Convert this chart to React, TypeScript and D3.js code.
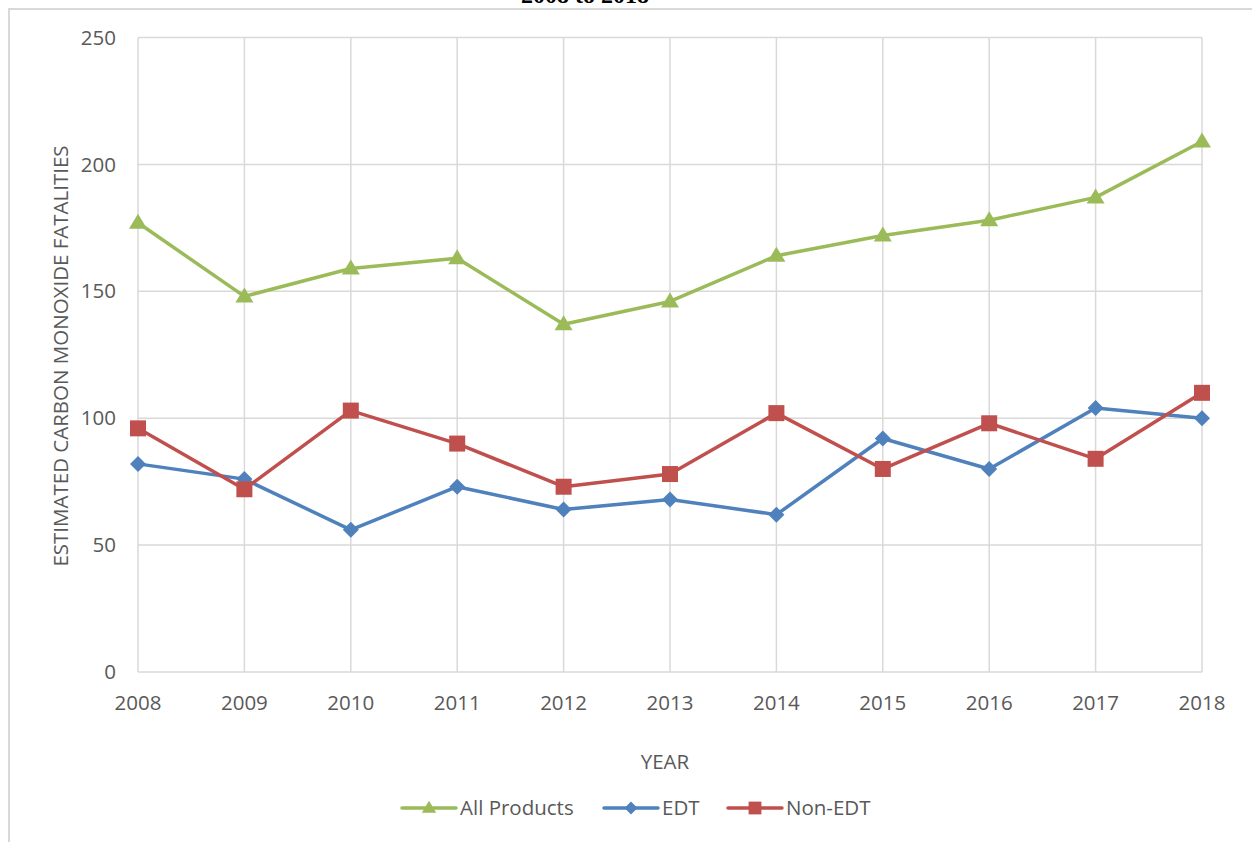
import React from "react";
import * as d3 from "d3";

const years = ["2008", "2009", "2010", "2011", "2012", "2013", "2014", "2015", "2016", "2017", "2018"];
const allProducts = [177, 148, 159, 163, 137, 146, 164, 172, 178, 187, 209];
const edt = [82, 76, 56, 73, 64, 68, 62, 92, 80, 104, 100];
const nonEdt = [96, 72, 103, 90, 73, 78, 102, 80, 98, 84, 110];
const yTicks = [0, 50, 100, 150, 200, 250];

const font = "'Open Sans', 'Liberation Sans', sans-serif";
const fs = 20.5;
const textColor = "#595959";
const gridColor = "#d9d9d9";

const series = [
  { name: "All Products", values: allProducts, color: "#9BBB59", marker: "triangle" },
  { name: "EDT", values: edt, color: "#4F81BD", marker: "diamond" },
  { name: "Non-EDT", values: nonEdt, color: "#C0504D", marker: "square" },
];

function Marker({ type, x, y, color, s = 1 }: { type: string; x: number; y: number; color: string; s?: number }) {
  if (type === "triangle") {
    const p = d3.path();
    p.moveTo(x, y - 9 * s);
    p.lineTo(x + 9 * s, y + 6 * s);
    p.lineTo(x - 9 * s, y + 6 * s);
    p.closePath();
    return <path d={p.toString()} fill={color} />;
  }
  if (type === "diamond") {
    const p = d3.path();
    p.moveTo(x, y - 8 * s);
    p.lineTo(x + 8 * s, y);
    p.lineTo(x, y + 8 * s);
    p.lineTo(x - 8 * s, y);
    p.closePath();
    return <path d={p.toString()} fill={color} />;
  }
  return <rect x={x - 8 * s} y={y - 8 * s} width={16 * s} height={16 * s} fill={color} />;
}

export default function App() {
  const width = 1252;
  const height = 842;
  const x = d3.scalePoint<string>().domain(years).range([138, 1202]);
  const y = d3.scaleLinear().domain([0, 250]).range([672, 37.5]);

  const line = d3
    .line<number>()
    .x((_, i) => x(years[i]) as number)
    .y((d) => y(d));

  const legend = [
    { s: series[0], lx: 402, tx: 460 },
    { s: series[1], lx: 604, tx: 662 },
    { s: series[2], lx: 728, tx: 786 },
  ];

  return (
    <svg width={width} height={height} style={{ position: "absolute", left: 0, top: 0, background: "#fff" }}>
      <text x={585} y={3} textAnchor="middle" fontFamily="'Liberation Serif', serif" fontWeight="bold" fontSize={24}>
        2008 to 2018
      </text>
      <path d={`M9,${height}V9H${width}`} fill="none" stroke={gridColor} strokeWidth={2} />

      {yTicks.map((t) => (
        <g key={"y" + t}>
          <line x1={138} x2={1202} y1={y(t)} y2={y(t)} stroke={gridColor} strokeWidth={1.5} />
          <text x={116} y={y(t)} dy="0.35em" textAnchor="end" fontFamily={font} fontSize={fs} fill={textColor}>
            {t}
          </text>
        </g>
      ))}
      {years.map((yr) => (
        <g key={"x" + yr}>
          <line x1={x(yr)} x2={x(yr)} y1={y(250)} y2={y(0)} stroke={gridColor} strokeWidth={1.5} />
          <text x={x(yr)} y={710} textAnchor="middle" fontFamily={font} fontSize={fs} fill={textColor}>
            {yr}
          </text>
        </g>
      ))}

      <text x={665} y={769} textAnchor="middle" fontFamily={font} fontSize={fs} fill={textColor}>
        YEAR
      </text>
      <text
        transform={`translate(68,${356}) rotate(-90)`}
        textAnchor="middle"
        fontFamily={font}
        fontSize={fs}
        fill={textColor}
      >
        ESTIMATED CARBON MONOXIDE FATALITIES
      </text>

      {series.map((s) => (
        <g key={s.name}>
          <path d={line(s.values) || ""} fill="none" stroke={s.color} strokeWidth={3.5} strokeLinejoin="round" />
          {s.values.map((v, i) => (
            <Marker key={i} type={s.marker} x={x(years[i]) as number} y={y(v)} color={s.color} />
          ))}
        </g>
      ))}

      {legend.map(({ s, lx, tx }) => (
        <g key={"lg" + s.name}>
          <line x1={lx} x2={lx + 54} y1={808} y2={808} stroke={s.color} strokeWidth={3.5} strokeLinecap="round" />
          <Marker type={s.marker} x={lx + 27} y={808} color={s.color} s={0.8} />
          <text x={tx} y={808} dy="0.35em" fontFamily={font} fontSize={fs} fill={textColor}>
            {s.name}
          </text>
        </g>
      ))}
    </svg>
  );
}
